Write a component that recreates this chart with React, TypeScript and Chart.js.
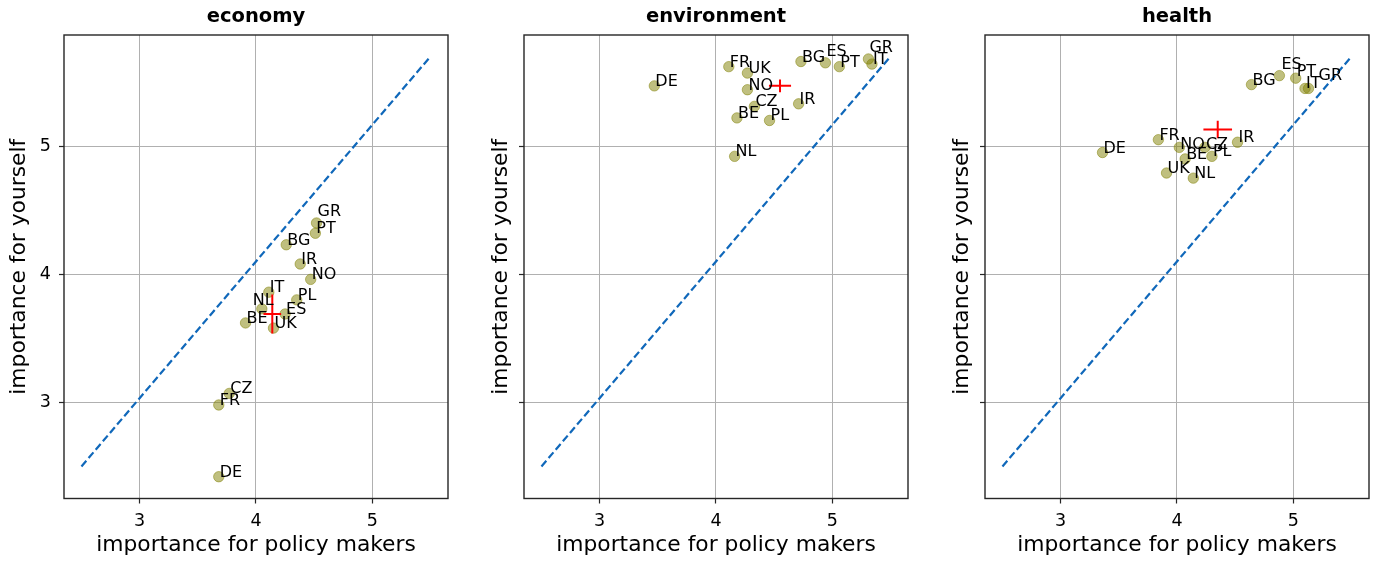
import React, { useEffect, useRef } from 'react';
import { Chart, registerables } from 'chart.js';

Chart.register(...registerables);
Chart.defaults.font.family = '"DejaVu Sans", sans-serif';

// ---- data ----
const economyNames = ['GR', 'PT', 'BG', 'IR', 'NO', 'IT', 'PL', 'NL', 'ES', 'BE', 'UK', 'CZ', 'FR', 'DE'];
const economyX = [4.52, 4.51, 4.26, 4.38, 4.47, 4.11, 4.35, 4.05, 4.25, 3.91, 4.15, 3.77, 3.68, 3.68];
const economyY = [4.40, 4.32, 4.23, 4.08, 3.96, 3.86, 3.80, 3.73, 3.69, 3.62, 3.58, 3.07, 2.98, 2.42];
const economyMean = [4.14, 3.69];
const economyErr = [0.076, 0.152];

const environmentNames = ['DE', 'FR', 'UK', 'NO', 'CZ', 'BE', 'PL', 'IR', 'NL', 'BG', 'ES', 'PT', 'GR', 'IT'];
const environmentX = [3.47, 4.11, 4.27, 4.27, 4.33, 4.18, 4.46, 4.71, 4.16, 4.73, 4.94, 5.06, 5.31, 5.34];
const environmentY = [5.47, 5.62, 5.57, 5.44, 5.31, 5.22, 5.20, 5.33, 4.92, 5.66, 5.65, 5.62, 5.68, 5.64];
const environmentMean = [4.55, 5.47];
const environmentErr = [0.095, 0.05];

const healthNames = ['DE', 'FR', 'NO', 'CZ', 'BE', 'UK', 'NL', 'PL', 'IR', 'BG', 'ES', 'PT', 'IT', 'GR'];
const healthX = [3.36, 3.84, 4.02, 4.24, 4.07, 3.91, 4.14, 4.30, 4.52, 4.64, 4.88, 5.02, 5.10, 5.13];
const healthY = [4.95, 5.05, 4.99, 4.99, 4.90, 4.79, 4.75, 4.92, 5.03, 5.48, 5.55, 5.53, 5.45, 5.45];
const healthMean = [4.35, 5.13];
const healthErr = [0.123, 0.068];

const tickValues = [3, 4, 5];
const diagonalX = [2.5, 5.5];
const diagonalY = [2.5, 5.7];

// label nudges in pixels (text placement, not data)
const economyNudges: Record<string, [number, number]> = { GR: [0, -7], NL: [-10, -4] };
const environmentNudges: Record<string, [number, number]> = { ES: [0, -7], GR: [0, -7] };
const healthNudges: Record<string, [number, number]> = { ES: [1, -7], GR: [9, -8], PT: [0, -2], NO: [0, 2], CZ: [0, 2] };

const X_MIN = 2.35, X_MAX = 5.65, Y_MIN = 2.25, Y_MAX = 5.867;

type PanelDef = {
  title: string;
  names: string[];
  xs: number[];
  ys: number[];
  mean: number[];
  err: number[];
  nudges: Record<string, [number, number]>;
};

const panels: PanelDef[] = [
  { title: 'economy', names: economyNames, xs: economyX, ys: economyY, mean: economyMean, err: economyErr, nudges: economyNudges },
  { title: 'environment', names: environmentNames, xs: environmentX, ys: environmentY, mean: environmentMean, err: environmentErr, nudges: environmentNudges },
  { title: 'health', names: healthNames, xs: healthX, ys: healthY, mean: healthMean, err: healthErr, nudges: healthNudges },
];

const panelLefts = [0, 460, 921];

function Panel({ def, index }: { def: PanelDef; index: number }) {
  const ref = useRef<HTMLCanvasElement>(null);
  useEffect(() => {
    const canvas = ref.current!;
    const framePlugin = {
      id: 'frame',
      afterDraw(chart: any) {
        const { ctx, chartArea: a } = chart;
        ctx.save();
        ctx.strokeStyle = '#262626';
        ctx.lineWidth = 1.4;
        ctx.strokeRect(a.left, a.top, a.right - a.left, a.bottom - a.top);
        ctx.restore();
      },
    };
    const labelPlugin = {
      id: 'pointLabels',
      afterDatasetsDraw(chart: any) {
        const { ctx } = chart;
        const meta = chart.getDatasetMeta(0);
        ctx.save();
        ctx.font = '16px "DejaVu Sans", sans-serif';
        ctx.fillStyle = '#000';
        ctx.textAlign = 'left';
        ctx.textBaseline = 'alphabetic';
        meta.data.forEach((el: any, i: number) => {
          const name = def.names[i];
          const n = def.nudges[name] || [0, 0];
          ctx.fillText(name, el.x + 1 + n[0], el.y + n[1]);
        });
        ctx.restore();
      },
    };
    const [mx, my] = def.mean;
    const [ex, ey] = def.err;
    const chart = new Chart(canvas, {
      type: 'scatter',
      data: {
        datasets: [
          {
            data: def.xs.map((x, i) => ({ x, y: def.ys[i] })),
            backgroundColor: 'rgba(128,128,0,0.5)',
            borderColor: 'rgba(128,128,0,0.5)',
            borderWidth: 1,
            pointRadius: 5.2,
            order: 3,
          },
          {
            data: diagonalX.map((x, i) => ({ x, y: diagonalY[i] })),
            showLine: true,
            borderColor: 'rgb(16,104,186)',
            borderWidth: 2.2,
            borderDash: [7.5, 3.5],
            pointRadius: 0,
            order: 2,
          },
          {
            data: [{ x: mx - ex, y: my }, { x: mx + ex, y: my }],
            showLine: true,
            borderColor: '#ff0000',
            borderWidth: 2,
            pointRadius: 0,
            order: 1,
          },
          {
            data: [{ x: mx, y: my - ey }, { x: mx, y: my + ey }],
            showLine: true,
            borderColor: '#ff0000',
            borderWidth: 2,
            pointRadius: 0,
            order: 1,
          },
        ],
      },
      options: {
        animation: false,
        responsive: false,
        events: [],
        layout: { padding: { left: 0, right: 10, top: 0, bottom: 0 } },
        plugins: {
          legend: { display: false },
          tooltip: { enabled: false },
          title: {
            display: true,
            text: def.title,
            fullSize: false,
            color: '#000',
            font: { size: 19.5, weight: 'bold' },
            padding: { top: 5.5, bottom: 6.1 },
          },
        },
        scales: {
          x: {
            type: 'linear',
            min: X_MIN,
            max: X_MAX,
            afterBuildTicks: (s: any) => {
              s.ticks = tickValues.map((v) => ({ value: v }));
            },
            afterFit: (s: any) => {
              s.height = 63.5;
            },
            ticks: { color: '#000', font: { size: 17.5 }, padding: 7, callback: (v: any) => String(v) },
            grid: { color: '#b0b0b0', lineWidth: 1, tickColor: '#262626', tickLength: 5, tickWidth: 1.2 },
            border: { display: false },
            title: {
              display: true,
              text: 'importance for policy makers',
              color: '#000',
              font: { size: 21.8 },
              padding: { top: 0, bottom: 4 },
            },
          },
          y: {
            type: 'linear',
            min: Y_MIN,
            max: Y_MAX,
            afterBuildTicks: (s: any) => {
              s.ticks = tickValues.map((v) => ({ value: v }));
            },
            afterFit: (s: any) => {
              s.width = 64;
            },
            ticks: {
              color: '#000',
              font: { size: 17.5 },
              padding: 8,
              callback: (v: any) => (index === 0 ? String(v) : ''),
            },
            grid: { color: '#b0b0b0', lineWidth: 1, tickColor: '#262626', tickLength: 5, tickWidth: 1.2 },
            border: { display: false },
            title: {
              display: true,
              text: 'importance for yourself',
              color: '#000',
              font: { size: 21.8 },
              padding: { top: index === 0 ? 6 : 28, bottom: 0 },
            },
          },
        },
      },
      plugins: [labelPlugin, framePlugin],
    } as any);
    return () => chart.destroy();
  }, [def, index]);
  return (
    <canvas
      ref={ref}
      width={458}
      height={562}
      style={{ position: 'absolute', left: panelLefts[index], top: 0, width: 458, height: 562 }}
    />
  );
}

export default function App() {
  return (
    <div style={{ position: 'fixed', left: 0, top: 0, width: 1375, height: 562, background: '#fff' }}>
      {panels.map((p, i) => (
        <Panel key={p.title} def={p} index={i} />
      ))}
    </div>
  );
}
